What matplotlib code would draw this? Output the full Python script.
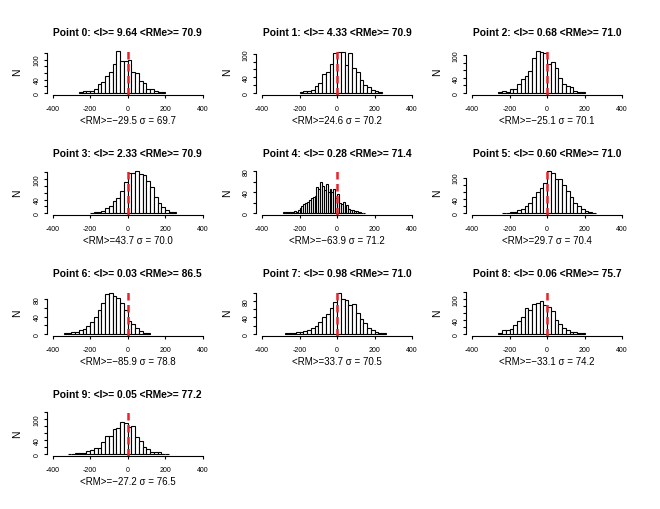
import numpy as np
import matplotlib
matplotlib.use('Agg')
import matplotlib.pyplot as plt

plt.rcParams['font.family'] = ['Liberation Sans', 'DejaVu Sans']

# per panel values
point_I = [9.64, 4.33, 0.68, 2.33, 0.28, 0.60, 0.03, 0.98, 0.06, 0.05]
point_RMe = [70.9, 70.9, 71.0, 70.9, 71.4, 71.0, 86.5, 71.0, 75.7, 77.2]
rm_mean = [-29.5, 24.6, -25.1, 43.7, -63.9, 29.7, -85.9, 33.7, -33.1, -27.2]
rm_sigma = [69.7, 70.2, 70.1, 70.0, 71.2, 70.4, 78.8, 70.5, 74.2, 76.5]

bin_start = [-260, -200, -260, -200, -290, -240, -340, -280, -260, -320]
bin_width = [20, 20, 20, 20, 10, 20, 20, 20, 20, 20]

counts = [
    [3, 5, 6, 6, 11, 27, 34, 50, 64, 86, 127, 96, 96, 98, 64, 61, 35, 29, 12, 10, 6, 3, 2],
    [2, 4, 5, 6, 17, 26, 47, 53, 74, 103, 105, 105, 72, 101, 63, 53, 33, 21, 14, 6, 5, 2],
    [1, 4, 2, 10, 10, 24, 36, 44, 59, 93, 110, 108, 105, 76, 83, 66, 40, 24, 18, 16, 4, 3, 1],
    [2, 3, 5, 8, 14, 22, 36, 45, 65, 90, 116, 118, 122, 114, 110, 94, 75, 48, 30, 18, 10, 5, 3],
    [2, 3, 2, 3, 2, 3, 4, 3, 6, 10, 14, 17, 20, 22, 25, 29, 31, 32, 50, 47, 60, 52, 44, 55, 40,
     47, 40, 47, 29, 36, 20, 18, 22, 14, 15, 9, 6, 7, 5, 5, 2, 2, 1, 1],
    [1, 2, 3, 4, 8, 12, 20, 30, 45, 60, 72, 85, 118, 112, 95, 96, 78, 62, 45, 30, 20, 12, 6, 3, 2],
    [1, 3, 5, 5, 8, 12, 18, 28, 40, 55, 72, 93, 95, 88, 84, 72, 55, 30, 22, 14, 6, 3, 1],
    [1, 2, 3, 4, 5, 7, 9, 14, 20, 28, 40, 48, 62, 78, 100, 85, 82, 70, 72, 50, 36, 25, 14, 9, 5, 3, 2],
    [3, 12, 11, 15, 24, 37, 49, 74, 68, 84, 88, 93, 82, 77, 65, 40, 28, 17, 12, 6, 5, 3, 2],
    [2, 2, 3, 5, 4, 9, 12, 19, 17, 35, 52, 53, 73, 74, 93, 89, 77, 82, 49, 37, 21, 15, 7, 6, 7, 2, 2],
]

# y range used for each panel and which y ticks get a label
y_max = [127, 108, 112, 122, 80, 118, 98, 102, 120, 120]
y_labelled = [[0, 40, 100]] * 4 + [[0, 40, 80]] + [[0, 40, 100]] + [[0, 40, 80]] * 2 + [[0, 40, 100]] * 2

W, H = 660, 510
col_left = [46.7, 256.0, 466.0]
row_bottom = [95.5, 216.0, 336.5, 457.0]
pw, ph = 162.0, 45.5

fig = plt.figure(figsize=(W / 100, H / 100), dpi=100)

for i in range(10):
    r, c = divmod(i, 3)
    ax = fig.add_axes([col_left[c] / W, 1 - row_bottom[r] / H, pw / W, ph / H])
    edges = bin_start[i] + bin_width[i] * np.arange(len(counts[i]) + 1)
    ax.hist(edges[:-1], bins=edges, weights=counts[i], facecolor='white',
            edgecolor='black', linewidth=0.8)
    m = y_max[i]
    ax.set_xlim(-432, 432)
    ax.set_ylim(-0.04 * m, 1.04 * m)
    ax.axvline(0, color='#e8232b', lw=1.8, ls=(0, (3, 1.8)))

    for s in ['top', 'right']:
        ax.spines[s].set_visible(False)
    ax.spines['bottom'].set_bounds(-400, 400)
    yt = np.arange(0, m + 1, 20)
    ax.spines['left'].set_bounds(0, yt[-1])
    for s in ['bottom', 'left']:
        ax.spines[s].set_linewidth(0.8)

    ax.set_xticks([-400, -200, 0, 200, 400])
    ax.set_xticklabels(['-400', '-200', '0', '200', '400'])
    ax.set_yticks(yt)
    ax.set_yticklabels([str(int(v)) if v in y_labelled[i] else '' for v in yt],
                       rotation=90, va='center')
    ax.tick_params(length=2.5, width=0.8, labelsize=5, pad=2)
    ax.tick_params(axis='x', pad=5)

    ax.set_ylabel('N', fontsize=7.5, labelpad=8)
    ax.set_title(f'Point {i}: <I>= {point_I[i]:.2f} <RMe>= {point_RMe[i]:.1f}',
                 fontsize=7.4, fontweight='bold', pad=10)
    mean_txt = f'{rm_mean[i]:.1f}'.replace('-', '\u2212')
    ax.text(0.5, -0.55, f'<RM>={mean_txt} \u03c3 = {rm_sigma[i]:.1f}',
            transform=ax.transAxes, ha='center', va='center', fontsize=7)

fig.savefig('out.png', dpi=100)
